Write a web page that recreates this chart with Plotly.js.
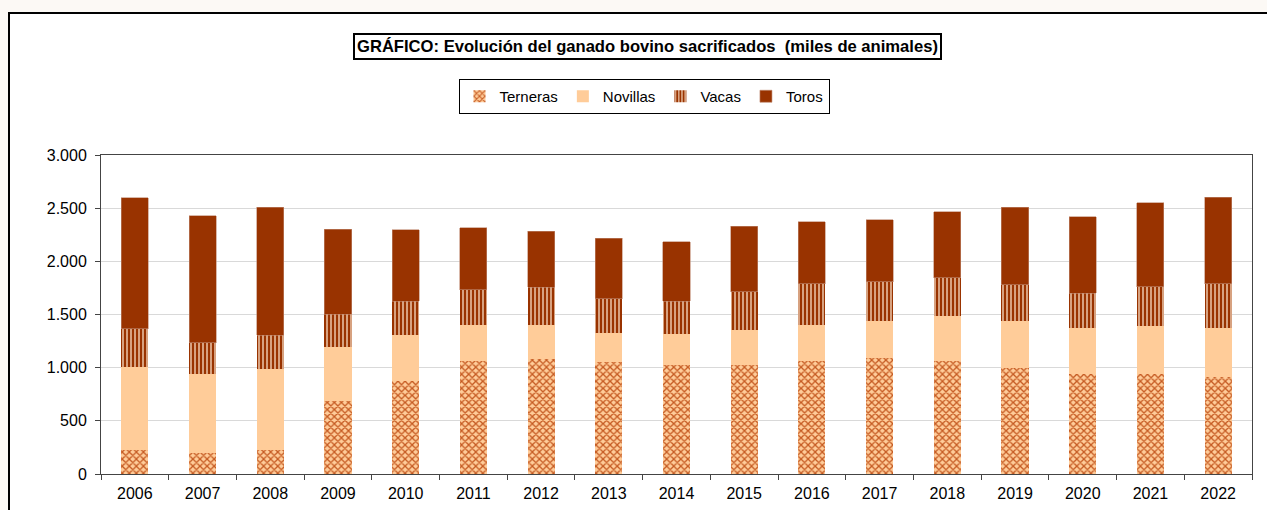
<!DOCTYPE html>
<html>
<head>
<meta charset="utf-8">
<script src="https://cdn.plot.ly/plotly-3.0.1.min.js"></script>
<style>
  html, body { margin: 0; padding: 0; background: #ffffff; overflow: hidden; }
  #chart { width: 1267px; height: 510px; }
</style>
</head>
<body>
<div id="chart"></div>
<script>
const years = ["2006","2007","2008","2009","2010","2011","2012","2013","2014","2015","2016","2017","2018","2019","2020","2021","2022"];
const terneras = [229, 198, 229, 690, 872, 1060, 1082, 1053, 1025, 1025, 1066, 1088, 1066, 997, 944, 941, 915];
const novillas = [780, 739, 759, 501, 435, 341, 319, 276, 289, 326, 338, 354, 420, 439, 432, 451, 461];
const vacas    = [355, 298, 319, 311, 317, 333, 355, 317, 310, 361, 383, 367, 361, 342, 326, 370, 411];
const toros    = [1232, 1195, 1204, 802, 674, 580, 529, 570, 558, 620, 583, 583, 620, 730, 718, 790, 815];
const seriesNames = ["Terneras", "Novillas", "Vacas", "Toros"];
const titleText = "GRÁFICO: Evolución del ganado bovino sacrificados (miles de animales)";
const yTicks = [0, 500, 1000, 1500, 2000, 2500, 3000];

const font = "Liberation Sans, Arial, sans-serif";

// plot area in pixels: left 101, right 1252, top 155, bottom 474
const W = 1151, H = 319;
const px = (x) => (x - 101) / W;
const py = (y) => (474 - y) / H;

const traces = [
  {
    type: "bar", name: seriesNames[0], x: years, y: terneras,
    marker: { color: "#FFCC99", line: { width: 0 },
      pattern: { shape: "x", fgcolor: "#C55A22", bgcolor: "#FFCC99", size: 5, solidity: 0.45 } }
  },
  {
    type: "bar", name: seriesNames[1], x: years, y: novillas,
    marker: { color: "#FFCC99", line: { width: 0 } }
  },
  {
    type: "bar", name: seriesNames[2], x: years, y: vacas,
    marker: { color: "#993300", line: { width: 0 },
      pattern: { shape: "|", fgcolor: "#F2D2B8", bgcolor: "#993300", size: 4, solidity: 0.35 } }
  },
  {
    type: "bar", name: seriesNames[3], x: years, y: toros,
    marker: { color: "#993300", line: { width: 0.6, color: "#C08870" } }
  }
];

const layout = {
  width: 1267, height: 510,
  paper_bgcolor: "#ffffff",
  plot_bgcolor: "#ffffff",
  margin: { l: 101, r: 15, t: 155, b: 36, pad: 0 },
  barmode: "stack",
  bargap: 0.6,
  separators: ",.",
  showlegend: true,
  font: { family: font, size: 16, color: "#000" },
  legend: {
    orientation: "h", x: px(644), xanchor: "center", y: py(79), yanchor: "top",
    bordercolor: "#000", borderwidth: 1, bgcolor: "#ffffff",
    traceorder: "normal",
    font: { family: font, size: 15, color: "#000" },
    itemwidth: 30
  },
  xaxis: {
    type: "category",
    showline: true, linecolor: "#444", linewidth: 1, mirror: true,
    ticks: "outside", ticklen: 5, tickcolor: "#444", tickson: "boundaries",
    ticklabelstandoff: 5,
    showgrid: false,
    tickfont: { family: font, size: 16, color: "#000" },
    automargin: false
  },
  yaxis: {
    range: [0, 3000],
    tickvals: yTicks,
    tickformat: ",d",
    showline: true, linecolor: "#444", linewidth: 1, mirror: true,
    ticks: "outside", ticklen: 5, tickcolor: "#444",
    ticklabelstandoff: 5,
    showgrid: true, gridcolor: "#D9D9D9", gridwidth: 1,
    zeroline: false,
    tickfont: { family: font, size: 16, color: "#000" },
    automargin: false
  },
  shapes: [
    // off-white margin strips outside the chart frame
    { type: "rect", xref: "paper", yref: "paper", x0: px(-2), x1: px(8), y0: py(520), y1: py(-2),
      fillcolor: "#FCF9F5", line: { width: 0 }, layer: "above" },
    { type: "rect", xref: "paper", yref: "paper", x0: px(-2), x1: px(1270), y0: py(12), y1: py(-2),
      fillcolor: "#FCF9F5", line: { width: 0 }, layer: "above" },
    // frame lines
    { type: "line", xref: "paper", yref: "paper", x0: px(9), x1: px(9), y0: py(520), y1: py(12),
      line: { color: "#000", width: 2 }, layer: "above" },
    { type: "line", xref: "paper", yref: "paper", x0: px(8), x1: px(1270), y0: py(13), y1: py(13),
      line: { color: "#000", width: 2 }, layer: "above" }
  ],
  annotations: [
    {
      text: "<b>" + titleText.replace("sacrificados ", "sacrificados&nbsp; ") + "</b>",
      xref: "paper", yref: "paper", x: px(647), y: py(46),
      xanchor: "center", yanchor: "middle", showarrow: false,
      font: { family: font, size: 16.6, color: "#000" },
      bordercolor: "#000", borderwidth: 2, borderpad: 2, bgcolor: "#ffffff"
    }
  ]
};

Plotly.newPlot("chart", traces, layout, { displayModeBar: false, staticPlot: true });
</script>
</body>
</html>
